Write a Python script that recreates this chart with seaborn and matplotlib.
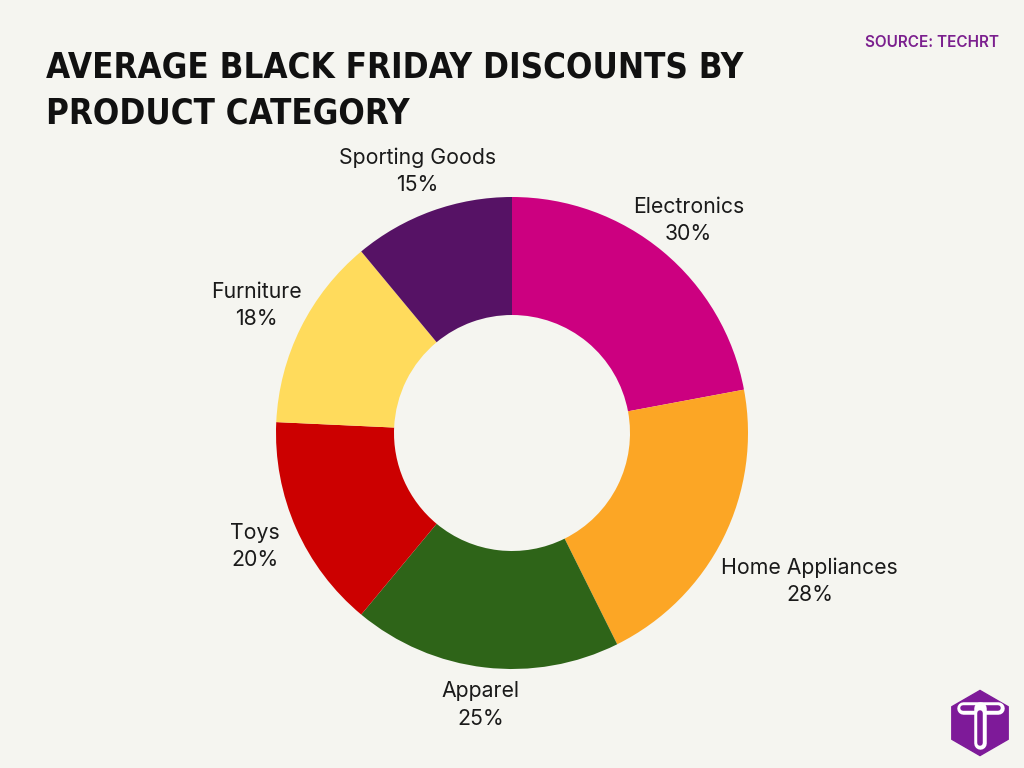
import matplotlib
matplotlib.use("Agg")
import matplotlib.pyplot as plt
import seaborn as sns
import numpy as np
from matplotlib.patches import RegularPolygon
from matplotlib.lines import Line2D

categories = ["Electronics", "Home Appliances", "Apparel", "Toys", "Furniture", "Sporting Goods"]
discounts = [30, 28, 25, 20, 18, 15]
colors = ["#CC0080", "#FCA625", "#2E6418", "#CC0000", "#FFDB5C", "#561265"]
label_dist = [1.17, 1.41, 1.16, 1.19, 1.21, 1.18]

title_lines = ["AVERAGE BLACK FRIDAY DISCOUNTS BY", "PRODUCT CATEGORY"]
source_text = "SOURCE: TECHRT"

BG = "#F5F5F0"
sns.set_theme(style="white")
plt.rcParams["font.family"] = ["Inter", "DejaVu Sans"]

W, H = 1024, 768
fig = plt.figure(figsize=(W / 100, H / 100), dpi=100, facecolor=BG)

# donut axes: center (512,433), radius 236 px
cx, cy, R = 512, 433, 236
half = 300
ax = fig.add_axes([(cx - half) / W, (H - cy - half) / H, 2 * half / W, 2 * half / H])
ax.set_facecolor(BG)
pal = sns.color_palette(colors)
wedges, _ = ax.pie(discounts, colors=pal, startangle=90, counterclock=False,
                   radius=1, wedgeprops=dict(width=0.5, linewidth=0))
lim = half / R
ax.set_xlim(-lim, lim)
ax.set_ylim(-lim, lim)
ax.set_aspect("equal")
ax.axis("off")

total = sum(discounts)
cum = 0
for cat, v, d in zip(categories, discounts, label_dist):
    mid = 90 - (cum + v / 2) / total * 360
    cum += v
    x, y = d * np.cos(np.radians(mid)), d * np.sin(np.radians(mid))
    ax.text(x, y, f"{cat}\n{v}%", ha="center", va="center", fontsize=15.3,
            color="#1a1a1a", linespacing=1.45, clip_on=False)

# title
for i, line in enumerate(title_lines):
    fig.text(46 / W, 1 - (78 + 45 * i) / H, line, ha="left", va="baseline",
             fontsize=25, fontweight="heavy", fontstretch="condensed",
             family=["DejaVu Sans"], color="#111111")

fig.text(999 / W, 1 - 47 / H, source_text, ha="right", va="baseline",
         fontsize=11, fontweight="semibold", color="#7B1F8E")

# logo
lax = fig.add_axes([945 / W, (H - 758) / H, 70 / W, 70 / H])
lax.set_xlim(-1, 1); lax.set_ylim(-1, 1); lax.set_aspect("equal"); lax.axis("off")
lax.add_patch(RegularPolygon((0, 0), 6, radius=0.93, orientation=0, color="#7E1A99"))
lax.add_line(Line2D([-0.5, 0.5], [0.42, 0.42], color="white", lw=9, solid_capstyle="round"))
lax.add_line(Line2D([-0.5, 0.5], [0.42, 0.42], color="#7E1A99", lw=4, solid_capstyle="round"))
lax.add_line(Line2D([0, 0], [0.42, -0.58], color="white", lw=9, solid_capstyle="round"))
lax.add_line(Line2D([0, 0], [0.30, -0.58], color="#7E1A99", lw=4, solid_capstyle="round"))

fig.savefig("out.png", dpi=100, facecolor=BG)
